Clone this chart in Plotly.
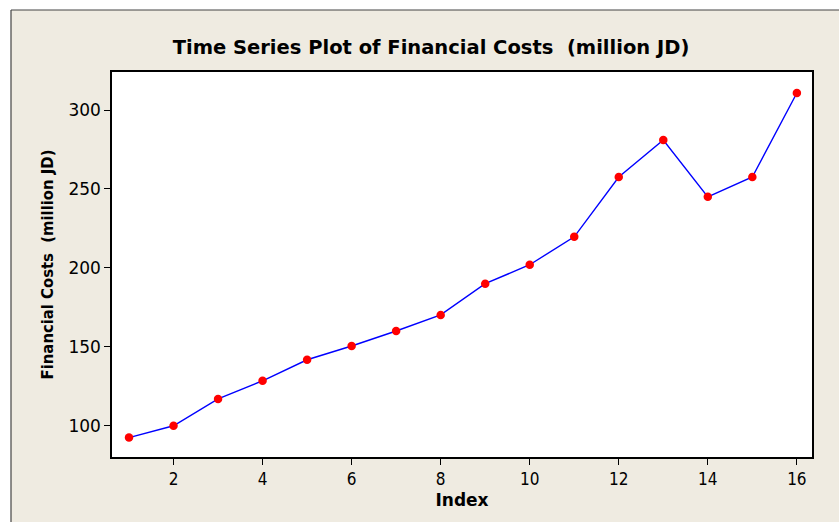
import plotly.graph_objects as go

index = list(range(1, 17))
costs = [92.5, 100, 117, 128.5, 141.8, 150.5, 160, 170.2, 190, 202, 219.7, 257.6, 281, 245, 257.6, 310.8]
x_ticks = [2, 4, 6, 8, 10, 12, 14, 16]
y_ticks = [100, 150, 200, 250, 300]

W, H = 839, 522
ML, MR, MT, MB = 112, 27, 72, 65
PW, PH = W - ML - MR, H - MT - MB

def px_x(p):
    return (p - ML) / PW

def px_y(p):
    return (H - MB - p) / PH

BEIGE = "#EFEBE1"

fig = go.Figure()
fig.add_trace(go.Scatter(
    x=index, y=costs, mode="lines+markers",
    line=dict(color="#0000FF", width=1.4),
    marker=dict(color="#FF0000", size=8.5),
    showlegend=False,
))

shapes = [
    dict(type="rect", xref="paper", yref="paper", x0=px_x(-5), x1=px_x(11), y0=px_y(530), y1=px_y(-5),
         fillcolor="white", line=dict(width=0), layer="below"),
    dict(type="rect", xref="paper", yref="paper", x0=px_x(-5), x1=px_x(845), y0=px_y(10), y1=px_y(-5),
         fillcolor="white", line=dict(width=0), layer="below"),
    dict(type="line", xref="paper", yref="paper", x0=px_x(11), x1=px_x(11), y0=px_y(530), y1=px_y(10),
         line=dict(color="#444444", width=1.2)),
    dict(type="line", xref="paper", yref="paper", x0=px_x(11), x1=px_x(845), y0=px_y(10), y1=px_y(10),
         line=dict(color="#444444", width=1.2)),
]

fig.update_layout(
    width=W, height=H,
    margin=dict(l=ML, r=MR, t=MT, b=MB, pad=0),
    paper_bgcolor=BEIGE, plot_bgcolor="white",
    shapes=shapes,
    title=dict(text="<b>Time Series Plot of Financial Costs  (million JD)</b>",
               x=431 / W, xanchor="center", xref="container",
               y=1 - 47 / H, yanchor="middle", yref="container",
               font=dict(family="DejaVu Sans", size=19.5, color="black")),
    font=dict(family="DejaVu Sans", color="black"),
)

fig.update_xaxes(
    range=[0.618, 16.34], tickvals=x_ticks, ticks="outside", ticklen=6, tickcolor="black",
    showline=True, linecolor="black", linewidth=1.5, mirror=True, showgrid=False, zeroline=False,
    tickfont=dict(family="DejaVu Sans Condensed", size=17, color="black"),
    title=dict(text="<b>Index</b>", standoff=6,
               font=dict(family="DejaVu Sans", size=17, color="black")),
)
fig.update_yaxes(
    range=[80.2, 324.1], tickvals=y_ticks, ticks="outside", ticklen=6, tickcolor="black",
    showline=True, linecolor="black", linewidth=1.5, mirror=True, showgrid=False, zeroline=False,
    tickfont=dict(family="DejaVu Sans", size=17, color="black"),
    title=dict(text="<b>Financial Costs  (million JD)</b>", standoff=11,
               font=dict(family="DejaVu Sans Condensed", size=16.5, color="black")),
)

fig.write_html("out.html", config={"displayModeBar": False},
               post_script="document.body.style.margin='0';")
